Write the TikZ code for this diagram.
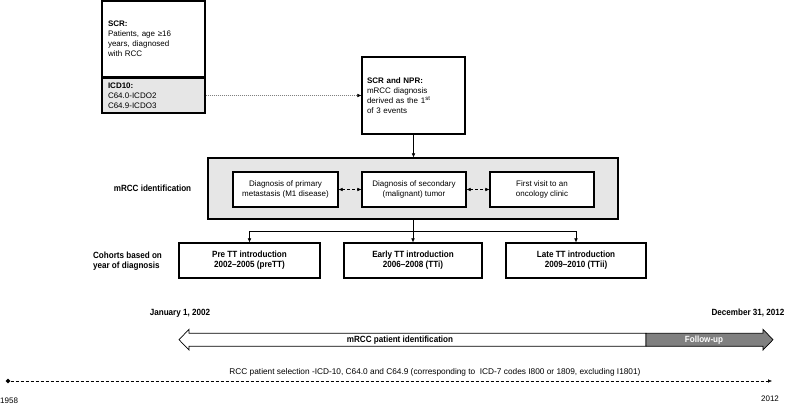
\documentclass[tikz,border=0pt]{standalone}
\usepackage{fontspec}
\setmainfont{Liberation Sans}
\newfontfamily\narrowfont[FakeStretch=0.9]{Liberation Sans}
\usetikzlibrary{arrows.meta,shapes.geometric,positioning}
\definecolor{boxgray}{HTML}{E6E6E6}
\definecolor{fugray}{HTML}{808080}

\begin{document}
\begin{tikzpicture}[x=1pt, y=-1pt,
    font=\fontsize{8}{10}\selectfont,
    regbox/.style={draw, line width=1.2pt, align=left, inner sep=0pt},
    midbox/.style={draw, line width=1.2pt, fill=white, align=center, minimum width=104pt, minimum height=35pt, inner sep=0pt},
    cohort/.style={draw, line width=1.2pt, align=center, minimum width=140pt, minimum height=35pt, inner sep=0pt, font=\fontsize{9}{10}\selectfont\narrowfont\bfseries},
    lbl/.style={font=\fontsize{9}{10}\selectfont\narrowfont\bfseries},
    tip/.style={-{Latex[length=4pt,width=3.5pt,color=black]}},
    dtip/.style={{Latex[length=4pt,width=3.5pt]}-{Latex[length=4pt,width=3.5pt]}}
]
\useasboundingbox (0,0) rectangle (789,406);

% registries
\node[regbox, text width=91pt, minimum width=103pt, minimum height=76pt] (scr) at (153.5,39)
    {\textbf{SCR:}\\Patients, age ≥16\\years, diagnosed\\with RCC};
\node[regbox, fill=boxgray, text width=91pt, minimum width=103pt, minimum height=35pt] (icd) at (153.5,95.5)
    {\textbf{ICD10:}\\C64.0-ICDO2\\C64.9-ICDO3};
\node[regbox, text width=93pt, minimum width=103pt, minimum height=77pt] (npr) at (413.5,95.5)
    {\textbf{SCR and NPR:}\\mRCC diagnosis\\derived as the 1\textsuperscript{st}\\of 3 events};

% identification
\node[draw, line width=1.2pt, fill=boxgray, minimum width=410pt, minimum height=61pt] (ident) at (413,188.5) {};
\node[midbox, minimum width=105pt] (d1) at (285.5,189.5) {Diagnosis of primary\\metastasis (M1 disease)};
\node[midbox] (d2) at (414,189.5) {Diagnosis of secondary\\(malignant) tumor};
\node[midbox] (d3) at (542,189.5) {First visit to an\\oncology clinic};
\node[lbl] (idlbl) at (152.5,188) {mRCC identification};

% cohorts
\node[cohort, minimum width=141pt] (c1) at (249.5,260.5) {Pre TT introduction\\2002–2005 (preTT)};
\node[cohort, minimum width=138pt] (c2) at (413,260.5) {Early TT introduction\\2006–2008 (TTi)};
\node[cohort] (c3) at (576,260.5) {Late TT introduction\\2009–2010 (TTii)};
\node[lbl, align=left] (cohlbl) at (127.5,261.5) {Cohorts based on\\year of diagnosis};
\coordinate (split) at (413,231);

\draw[gray, dash pattern=on 1pt off 1pt, tip] (icd) -- (npr);
\draw[tip] (npr.south) -- (npr.south |- ident.north);
\draw[densely dashed, dtip] (d1) -- (d2);
\draw[densely dashed, dtip] (d2) -- (d3);
\draw (ident.south) -- (split);
\draw[tip] (split) -| (c1.north);
\draw[tip] (split) -- (c2.north);
\draw[tip] (split) -| (c3.north);

% timeline
\node[lbl] (jan) at (180,313) {January 1, 2002};
\node[lbl, anchor=east] (dec) at (788,313) {December 31, 2012};
\draw[line width=0.7pt, fill=white] (646,333.3) -- (189,333.3) -- (189,329.3) -- (179,339.7)
    -- (189,350) -- (189,346.3) -- (646,346.3) -- cycle;
\draw[line width=0.7pt, fill=fugray] (646,333.3) -- (763,333.3) -- (763,329.3) -- (773,339.7)
    -- (763,350) -- (763,346.3) -- (646,346.3) -- cycle;
\node[lbl] (idtxt) at (400,339.7) {mRCC patient identification};
\node[lbl, white] (futxt) at (704,339.7) {Follow-up};

\node[font=\fontsize{8.3}{10}\selectfont] (rcc) at (435,372) {RCC patient selection -ICD-10, C64.0 and C64.9 (corresponding to\ \ ICD-7 codes I800 or 1809, excluding I1801)};
\node[diamond, fill, inner sep=0pt, minimum size=5pt] (start) at (8,381) {};
\coordinate (end) at (772,381);
\draw[dash pattern=on 3pt off 2pt, tip] (start) -- (end);
\node[anchor=west, inner sep=0pt] (y1958) at (0,401) {1958};
\node (y2012) at (770,399) {2012};
\end{tikzpicture}
\end{document}
